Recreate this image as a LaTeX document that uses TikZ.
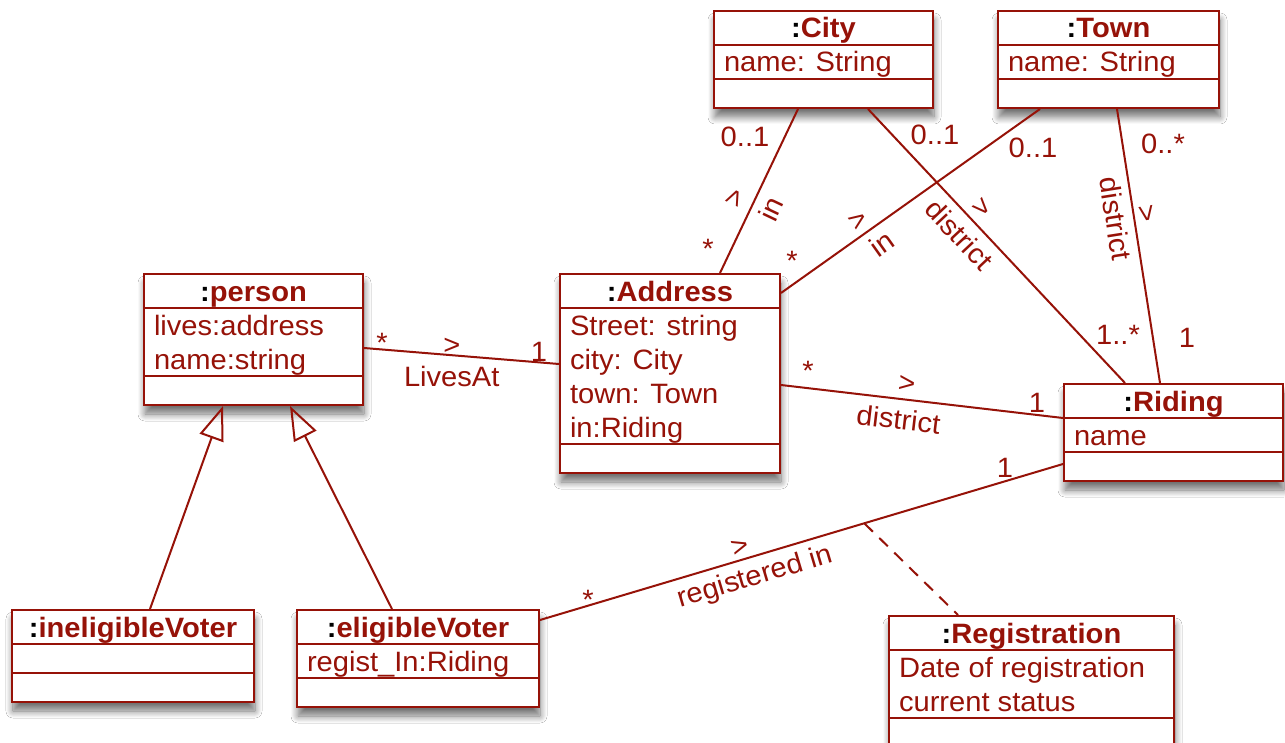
\documentclass[tikz,border=0pt]{standalone}
\usepackage{fontspec}
\setmainfont{Liberation Sans}[FakeStretch=1.04]
\usetikzlibrary{shapes.multipart}
\usetikzlibrary{arrows.meta}
\usetikzlibrary{shadows.blur}
\usetikzlibrary{calc}
\definecolor{umlred}{RGB}{150,18,8}
\newcommand\umlstrut{\rule[-3pt]{0pt}{16pt}}
\newcommand\umltitle[1]{\umlstrut\textbf{\textcolor{black}{:}#1}}
\tikzset{
	node_class/.style = {
		rectangle split,
		rectangle split parts=3,
		rectangle split part align={center,left,left},
		rectangle split empty part height=13.5pt,
		rectangle split empty part depth=0pt,
		draw=umlred,
		fill=white,
		text=umlred,
		line width=1pt,
		inner xsep=5pt,
		inner ysep=0pt,
		align=left,
		anchor=north west,
		font=\fontsize{14}{17}\selectfont,
		blur shadow={shadow blur steps=10, shadow xshift=0.5pt, shadow yshift=-4.5pt, shadow blur radius=3.5pt, shadow opacity=55}
	},
	node_mult/.style = {
		text=umlred,
		inner sep=0pt,
		font=\fontsize{14}{17}\selectfont
	},
	node_role/.style = {
		node_mult,
		sloped
	},
	node_dir/.style = {
		node_role
	},
	edge_assoc/.style = {
		draw=umlred,
		line width=1pt
	},
	edge_gen/.style = {
		edge_assoc,
		-{Triangle[open, length=17pt, width=12.5pt]}
	},
	edge_link/.style = {
		edge_assoc,
		dash pattern=on 6pt off 4.5pt
	},
}
\begin{document}
\begin{tikzpicture}[x=0.5pt, y=-0.5pt]
\fill[white] (0,0) rectangle (1285,743);
\useasboundingbox (0,0) rectangle (1285,743);

\node [node_class, minimum width=109.5pt] (city) at (713,10) {\umltitle{City}\nodepart{two}\umlstrut name: String\nodepart{three}};
\node [node_class, minimum width=110.5pt] (town) at (997,10) {\umltitle{Town}\nodepart{two}\umlstrut name: String\nodepart{three}};
\node [node_class, minimum width=109.5pt] (person) at (143,273) {\umltitle{person}\nodepart{two}\umlstrut lives:address\\\umlstrut name:string\nodepart{three}};
\node [node_class, minimum width=110pt] (address) at (559,273) {\umltitle{Address}\nodepart{two}\umlstrut Street: string\\\umlstrut city: City\\\umlstrut town: Town\\\umlstrut in:Riding\nodepart{three}};
\node [node_class, minimum width=109.5pt] (riding) at (1063,383) {\umltitle{Riding}\nodepart{two}\umlstrut name\nodepart{three}};
\node [node_class, minimum width=142.5pt] (registration) at (888,615) {\umltitle{Registration}\nodepart{two}\umlstrut Date of registration\\\umlstrut current status\nodepart{three}};
\node [node_class, minimum width=121pt] (inelig) at (11,609) {\umltitle{ineligibleVoter}\nodepart{two}\nodepart{three}};
\node [node_class, minimum width=121pt] (elig) at (296,609) {\umltitle{eligibleVoter}\nodepart{two}\umlstrut regist\_In:Riding\nodepart{three}};

\draw [edge_assoc] ($(person.north east)+(0,75)$) -- node [node_mult, pos=.45, above=0pt] {>} node [node_mult, pos=.45, below=5pt] {LivesAt} ($(address.north west)+(0,91)$);
\draw [edge_assoc] ($(address.north west)+(161,0)$) -- node [node_dir, pos=.41, above=4.5pt] {>} node [node_role, pos=.44, below=3.5pt] {in} ($(city.south west)+(85,0)$);
\draw [edge_assoc] ($(address.north east)+(0,20)$) -- node [node_dir, pos=.33, above=2.2pt] {>} node [node_role, pos=.35, below=3.4pt] {in} ($(town.south west)+(43,0)$);
\draw [edge_assoc] ($(city.south west)+(155,0)$) -- node [node_dir, pos=.40, above=2.8pt] {>} node [node_role, pos=.41, below=4pt] {district} ($(riding.north west)+(62,0)$);
\draw [edge_assoc] ($(town.south west)+(120,0)$) -- node [node_dir, pos=.39, above=1.7pt] {>} node [node_role, pos=.39, below=3.5pt] {district} ($(riding.north west)+(97,0)$);
\draw [edge_assoc] ($(address.north east)+(0,112)$) -- node [node_dir, pos=.44, above=3pt] {>} node [node_role, pos=.425, below=4.5pt] {district} ($(riding.north west)+(0,35)$);
\draw [edge_assoc] ($(elig.north east)+(0,11)$) -- node [node_dir, pos=.39, above=1.5pt] {>} node [node_role, pos=.40, below=3.5pt] {registered in} coordinate [pos=.62] (reg_link) ($(riding.north west)+(0,81)$);
\draw [edge_link] (reg_link) -- ($(registration.north west)+(70,0)$);
\draw [edge_gen] ($(inelig.north west)+(139,0)$) -- ($(person.south west)+(80,0)$);
\draw [edge_gen] ($(elig.north west)+(96,0)$) -- ($(person.south west)+(147,0)$);

\node [node_mult] (m_lives_p) at (382,343) {*};
\node [node_mult] (m_lives_a) at (539,352) {1};
\node [node_mult] (m_cityin_c) at (745,137) {0..1};
\node [node_mult] (m_cityin_a) at (708,249) {*};
\node [node_mult] (m_townin_t) at (1033,148) {0..1};
\node [node_mult] (m_townin_a) at (792,261) {*};
\node [node_mult] (m_citydist_c) at (935,135) {0..1};
\node [node_mult] (m_citydist_r) at (1118,335) {1..*};
\node [node_mult] (m_towndist_t) at (1163,144) {0..*};
\node [node_mult] (m_towndist_r) at (1187,338) {1};
\node [node_mult] (m_adist_a) at (808,371) {*};
\node [node_mult] (m_adist_r) at (1037,403) {1};
\node [node_mult] (m_reg_e) at (588,600) {*};
\node [node_mult] (m_reg_r) at (1005,468) {1};
\end{tikzpicture}
\end{document}
